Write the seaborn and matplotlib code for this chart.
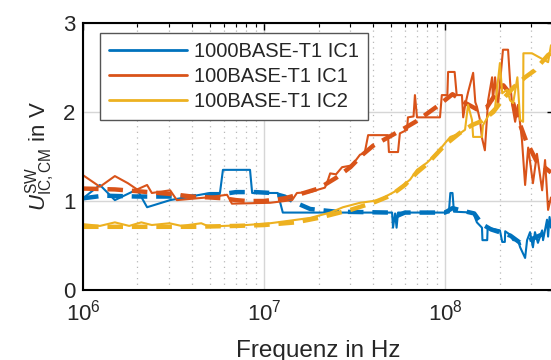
import numpy as np
import pandas as pd
import matplotlib
matplotlib.use('Agg')
import matplotlib.pyplot as plt
import seaborn as sns
from matplotlib.ticker import LogLocator, NullFormatter

# ---------------- data ----------------
names = ["1000BASE-T1 IC1", "100BASE-T1 IC1", "100BASE-T1 IC2"]
colors = ["#0072BD", "#D95319", "#EDB120"]

# 1000BASE-T1 IC1 (raw)
f_b = [1.0e6, 1.24e6, 1.50e6, 1.99e6, 2.26e6, 3.03e6, 5.03e6, 5.71e6, 5.93e6, 8.37e6,
       8.6e6, 1.08e7, 1.19e7, 1.27e7, 5.1e7, 5.16e7, 5.3e7, 5.4e7, 5.5e7, 1.05e8,
       1.07e8, 1.10e8, 1.12e8, 1.43e8, 1.50e8, 1.60e8, 1.61e8, 1.71e8, 1.72e8, 2.01e8,
       2.07e8, 2.14e8, 2.15e8, 2.29e8, 2.38e8, 2.53e8, 2.60e8, 2.77e8, 2.84e8, 2.95e8,
       3.06e8, 3.14e8, 3.26e8, 3.44e8, 3.48e8, 3.66e8, 3.71e8, 3.78e8, 3.85e8]
v_b = [1.03, 1.18, 1.01, 1.13, 0.93, 1.01, 1.09, 1.09, 1.35, 1.35,
       1.09, 1.09, 1.09, 0.87, 0.87, 0.70, 0.86, 0.70, 0.87, 0.87,
       1.09, 1.09, 0.88, 0.87, 0.76, 0.70, 0.56, 0.56, 0.70, 0.67,
       0.54, 0.54, 0.66, 0.62, 0.56, 0.56, 0.48, 0.36, 0.56, 0.65,
       0.48, 0.65, 0.53, 0.67, 0.56, 0.79, 0.60, 0.82, 0.70]

# 100BASE-T1 IC1 (raw)
f_r = [1.0e6, 1.24e6, 1.5e6, 1.77e6, 1.99e6, 2.26e6, 2.4e6, 3.03e6, 3.3e6, 4.84e6,
       6.25e6, 6.65e6, 1.08e7, 1.43e7, 1.52e7, 1.79e7, 2.17e7, 2.26e7, 2.32e7, 2.5e7,
       2.7e7, 3.06e7, 3.39e7, 3.6e7, 3.76e7, 4.84e7, 4.9e7, 5.5e7, 5.63e7, 6.17e7,
       6.24e7, 6.7e7, 6.82e7, 7.0e7, 9.38e7, 9.6e7, 1.03e8, 1.04e8, 1.13e8, 1.16e8,
       1.24e8, 1.26e8, 1.29e8, 1.34e8, 1.43e8, 1.47e8, 1.50e8, 1.56e8, 1.60e8, 1.66e8,
       1.73e8, 1.82e8, 1.84e8, 1.89e8, 1.96e8, 2.09e8, 2.23e8, 2.29e8, 2.35e8, 2.44e8,
       2.53e8, 2.66e8, 2.77e8, 2.88e8, 3.06e8, 3.22e8, 3.44e8, 3.57e8, 3.71e8, 3.85e8]
v_r = [1.29, 1.16, 1.28, 1.20, 1.13, 1.18, 1.09, 1.12, 1.01, 1.04,
       1.07, 0.97, 0.98, 1.01, 1.09, 1.10, 1.15, 1.24, 1.31, 1.30,
       1.38, 1.40, 1.52, 1.54, 1.74, 1.74, 1.55, 1.55, 1.76, 1.80,
       1.94, 1.95, 2.19, 1.94, 1.94, 2.19, 2.19, 2.45, 2.45, 2.19,
       2.19, 1.94, 2.07, 2.22, 2.44, 2.11, 2.06, 1.91, 1.71, 1.57,
       2.13, 2.39, 2.13, 2.39, 2.06, 2.70, 2.70, 2.33, 2.08, 1.89,
       2.08, 1.69, 1.18, 1.60, 1.20, 1.53, 1.12, 1.46, 0.90, 1.04]

# 100BASE-T1 IC2 (raw)
f_y = [1.0e6, 1.24e6, 1.5e6, 1.8e6, 2.1e6, 2.4e6, 3.0e6, 3.5e6, 4.5e6, 5.0e6,
       6.0e6, 8.0e6, 1.08e7, 1.4e7, 1.8e7, 2.32e7, 2.73e7, 3.39e7, 4.38e7, 4.6e7,
       5.43e7, 6.41e7, 7.0e7, 7.95e7, 9.03e7, 1.0e8, 1.07e8, 1.21e8, 1.29e8, 1.34e8,
       1.41e8, 1.43e8, 1.60e8, 1.62e8, 1.77e8, 1.89e8, 2.01e8, 2.07e8, 2.20e8, 2.29e8,
       2.38e8, 2.51e8, 2.60e8, 2.70e8, 2.71e8, 3.02e8, 3.71e8, 3.85e8]
v_y = [0.74, 0.72, 0.76, 0.72, 0.76, 0.73, 0.75, 0.72, 0.75, 0.71,
       0.72, 0.73, 0.75, 0.78, 0.81, 0.87, 0.93, 0.98, 1.01, 1.04,
       1.12, 1.24, 1.35, 1.43, 1.54, 1.65, 1.72, 1.76, 1.80, 2.08,
       1.91, 1.72, 1.72, 1.85, 1.99, 2.05, 2.55, 2.21, 2.25, 2.13,
       2.10, 2.39, 1.91, 1.89, 2.66, 2.66, 2.56, 2.75]

# smoothed (dashed) curves
fd_b = [1e6, 1.3e6, 2e6, 3e6, 4e6, 5e6, 6e6, 7e6, 9e6, 1.1e7,
        1.3e7, 1.5e7, 1.8e7, 2.5e7, 5e7, 5.4e7, 6e7, 1e8, 1.1e8, 1.25e8,
        1.45e8, 1.6e8, 1.8e8, 2e8, 2.3e8, 2.6e8, 3e8, 3.4e8, 3.85e8]
vd_b = [1.03, 1.06, 1.05, 1.05, 1.05, 1.07, 1.08, 1.10, 1.10, 1.09,
        1.05, 0.98, 0.91, 0.88, 0.87, 0.83, 0.87, 0.87, 0.92, 0.89,
        0.86, 0.74, 0.68, 0.65, 0.61, 0.53, 0.57, 0.62, 0.66]

fd_r = [1e6, 1.5e6, 2e6, 3e6, 4e6, 5e6, 6e6, 7e6, 8e6, 1e7,
        1.3e7, 1.6e7, 2e7, 2.5e7, 3e7, 3.5e7, 4e7, 5e7, 6e7, 7e7,
        9e7, 1.1e8, 1.3e8, 1.5e8, 1.7e8, 1.9e8, 2.1e8, 2.3e8, 2.5e8, 2.8e8,
        3.2e8, 3.85e8]
vd_r = [1.14, 1.13, 1.11, 1.08, 1.05, 1.04, 1.03, 1.01, 1.00, 1.00,
        1.03, 1.08, 1.14, 1.26, 1.38, 1.52, 1.62, 1.73, 1.82, 1.90,
        2.06, 2.20, 2.10, 2.03, 2.05, 2.20, 2.30, 2.20, 1.95, 1.68,
        1.45, 1.32]

fd_y = [1e6, 2e6, 4e6, 7e6, 1e7, 1.5e7, 2e7, 3e7, 4e7, 5e7,
        6e7, 7e7, 8e7, 1e8, 1.2e8, 1.4e8, 1.6e8, 1.85e8, 2.1e8, 2.4e8,
        2.77e8, 3.14e8, 3.71e8, 3.85e8]
vd_y = [0.71, 0.71, 0.71, 0.72, 0.73, 0.76, 0.81, 0.90, 0.98, 1.06,
        1.18, 1.32, 1.42, 1.63, 1.76, 1.85, 1.90, 2.00, 2.15, 2.28,
        2.39, 2.47, 2.64, 2.66]

y_ticks = [0, 1, 2, 3]
x_label = "Frequenz in Hz"
y_label = r"$U^{\mathrm{SW}}_{\mathrm{IC,CM}}$ in V"

# ---------------- style ----------------
sns.set_theme(style="white")
plt.rcParams['font.family'] = ['Liberation Sans', 'DejaVu Sans']
plt.rcParams['mathtext.fontset'] = 'custom'
plt.rcParams['mathtext.rm'] = 'Liberation Sans'
plt.rcParams['mathtext.it'] = 'Liberation Sans:italic'
plt.rcParams['mathtext.bf'] = 'Liberation Sans:bold'
plt.rcParams['mathtext.sf'] = 'Liberation Sans'

fig = plt.figure(figsize=(5.51, 3.60), dpi=100)
ax = fig.add_axes([83 / 551, 1 - 290 / 360, 471 / 551, 267 / 360])
ax.set_xscale('log')

raw = [(f_b, v_b), (f_r, v_r), (f_y, v_y)]
smooth = [(fd_b, vd_b), (fd_r, vd_r), (fd_y, vd_y)]
handles = []
for name, c, (f, v), (fd, vd) in zip(names, colors, raw, smooth):
    df = pd.DataFrame({"f": f, "v": v})
    sns.lineplot(data=df, x="f", y="v", color=c, lw=1.5, sort=False,
                 estimator=None, ax=ax, legend=False)
    handles.append(ax.lines[-1])
    dfd = pd.DataFrame({"f": fd, "v": vd})
    sns.lineplot(data=dfd, x="f", y="v", color=c, lw=3.2, sort=False,
                 estimator=None, ax=ax, legend=False)
    ax.lines[-1].set_dashes((3.5, 2.0))

ax.set_xlim(1e6, 4e8)
ax.set_ylim(0, 3)
ax.set_yticks(y_ticks)
ax.set_yticklabels([str(t) for t in y_ticks])
ax.xaxis.set_major_locator(LogLocator(base=10, numticks=10))
ax.xaxis.set_minor_locator(LogLocator(base=10, subs=np.arange(2, 10), numticks=20))
ax.xaxis.set_minor_formatter(NullFormatter())

ax.set_axisbelow(True)
ax.grid(which='major', axis='both', color='#d6d6d6', lw=1.0, ls='-')
ax.grid(which='minor', axis='x', color='#b8b8b8', lw=0.9, ls=(0, (1, 3.5)))

for s in ax.spines.values():
    s.set_color('black')
    s.set_linewidth(1.5)

ax.tick_params(which='both', direction='in', top=True, right=True,
               colors='black', labelcolor='#262626')
ax.tick_params(which='major', length=5, width=1.0, labelsize=16)
ax.tick_params(axis='y', which='major', pad=5.5)
ax.tick_params(axis='x', which='major', pad=7)
ax.tick_params(which='minor', length=3, width=0.8)

ax.set_xlabel(x_label, fontsize=17.5, color='#262626', labelpad=10)
ax.set_ylabel(y_label, fontsize=16, color='#262626', labelpad=4)

leg = ax.legend(handles=handles, labels=names, loc='upper left',
                bbox_to_anchor=(17 / 471, 1 - 10 / 267), borderaxespad=0,
                fontsize=14.5, frameon=True, fancybox=False, framealpha=1,
                edgecolor='#555555', handlelength=3.85, handletextpad=0.35,
                labelspacing=0.3, borderpad=0.45)
leg.get_frame().set_linewidth(1.0)
for h in leg.get_lines():
    h.set_linewidth(2.0)

fig.savefig("out.png", dpi=100)
